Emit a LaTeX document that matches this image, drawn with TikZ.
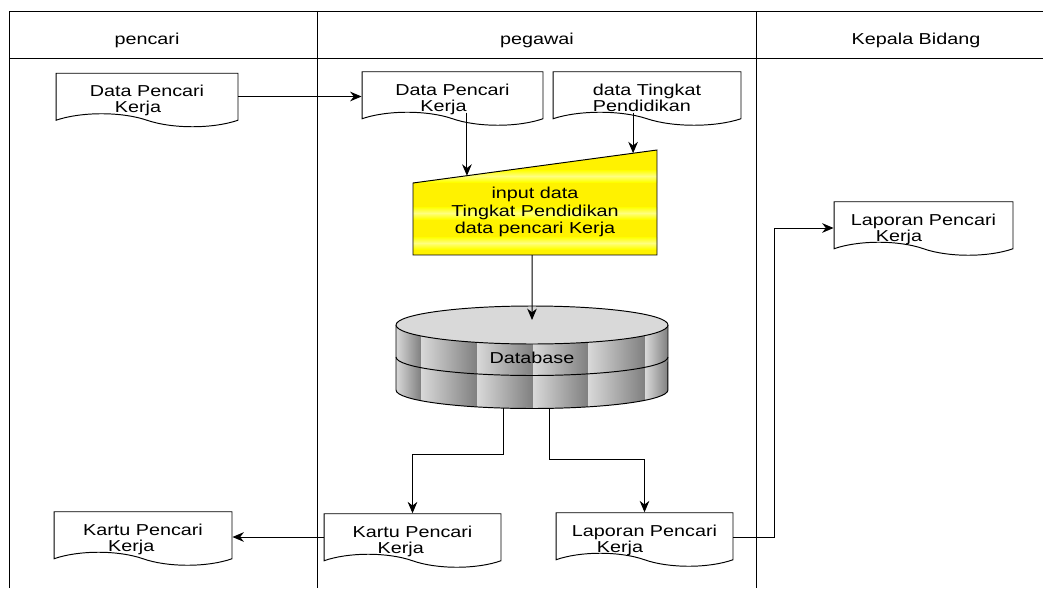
\documentclass[tikz,border=0pt]{standalone}
\usepackage{fontspec}
\setmainfont{Liberation Sans}[FakeStretch=1.25]
\usetikzlibrary{calc,shapes.symbols,arrows.meta}

\newcommand{\isidok}[2]{\raisebox{-11pt}[0pt][0pt]{\renewcommand{\arraystretch}{0.92}\begin{tabular}[b]{@{}l@{}}#1\\#2\end{tabular}}}

\tikzset{
  dokumen/.style={draw, fill=white, shape=tape, tape bend top=none,
    tape bend bottom=out and in, tape bend height=0.26cm,
    minimum width=#1, minimum height=1.07cm, inner sep=2pt},
  panah/.style={-{Stealth[length=6.5pt,width=5.5pt]}}
}

\begin{document}
\begin{tikzpicture}[x=0.02cm, y=-0.02cm, line width=0.55pt, font=\fontsize{9}{10}\selectfont]
    \useasboundingbox (0,0) rectangle (1043,588);
    % kerangka
    \draw (9,588) -- (9,11) -- (1043,11);
    \draw (9,58) -- (1043,58);
    \draw (317,11) -- (317,588);
    \draw (756,11) -- (756,588);
    \node (hpencari) at (147,40) {pencari};
    \node (hpegawai) at (537,40) {pegawai};
    \node (hkepala) at (916,40) {Kepala Bidang};

    % dokumen
    \node[dokumen=3.64cm] (dpk1) at (147,93.5) {\isidok{Data Pencari}{\hspace*{0.5cm}Kerja}};
    \node[dokumen=3.62cm] (dpk2) at (452.5,92) {\isidok{Data Pencari}{\hspace*{0.5cm}Kerja}};
    \node[dokumen=3.76cm] (dtp) at (647,92) {\isidok{data Tingkat}{Pendidikan}};
    \node[dokumen=3.58cm] (lpk3) at (923.5,222) {\isidok{Laporan Pencari}{\hspace*{0.5cm}Kerja}};
    \node[dokumen=3.56cm] (kpk1) at (143,532) {\isidok{Kartu Pencari}{\hspace*{0.5cm}Kerja}};
    \node[dokumen=3.54cm] (kpk2) at (412.5,534) {\isidok{Kartu Pencari}{\hspace*{0.5cm}Kerja}};
    \node[dokumen=3.54cm] (lpk2) at (644.5,533) {\isidok{Laporan Pencari}{\hspace*{0.5cm}Kerja}};

    % input manual
    \coordinate (tl) at (413,183);
    \coordinate (tr) at (657,150);
    \coordinate (br) at (657,255);
    \coordinate (bl) at (413,255);
    \begin{scope}
        \clip (tl) -- (tr) -- (br) -- (bl) -- cycle;
        \fill[yellow] (413,150) rectangle (657,255);
        \foreach \y in {170,207,237}
            \shade[top color=yellow, bottom color=yellow, middle color=yellow!50] (413,\y) rectangle (657,\y+12);
    \end{scope}
    \draw (tl) -- (tr) -- (br) -- (bl) -- cycle;
    \node[align=center] (input) at (535,212) {input data\\Tingkat Pendidikan\\data pencari Kerja};

    % database
    \begin{scope}
        \clip (396,325) -- (396,390) arc[start angle=180, end angle=360, x radius=2.72cm, y radius=0.37cm] -- (668,325) -- cycle;
        \foreach \a/\b in {396/421,421/477,477/533,533/588,588/645,645/668}
            \shade[left color=gray!30, right color=gray] (\a,318) rectangle (\b,415);
    \end{scope}
    \draw (396,325) -- (396,390) arc[start angle=180, end angle=360, x radius=2.72cm, y radius=0.37cm] -- (668,325);
    \draw (396,357) arc[start angle=180, end angle=360, x radius=2.72cm, y radius=0.37cm];
    \draw[fill=gray!30] (532,325) ellipse[x radius=2.72cm, y radius=0.38cm];
    \node (db) at (532,358) {Database};

    % alur
    \coordinate (in1) at ($(tl)!0.221!(tr)$);
    \coordinate (in2) at ($(tl)!0.902!(tr)$);
    \coordinate (out) at ($(bl)!0.488!(br)$);
    \coordinate (dbin) at (532,320);
    \coordinate (db1) at (503,408);
    \coordinate (db2) at (549,408);
    \coordinate (j1) at (503,454);
    \coordinate (j2) at (549,459);
    \coordinate (belok) at (774,0);
    \draw[panah] ([yshift=-0.06cm]dpk1.east) -- ([yshift=-0.06cm]dpk1.east -| dpk2.west);
    \draw[panah] (dpk2.south -| in1) -- (in1);
    \draw[panah] (dtp.south -| in2) -- (in2);
    \draw[panah] (out) -- (dbin);
    \draw[panah] (db1) -- (j1) -| (kpk2.north);
    \draw[panah] (db2) -- (j2) -| (lpk2.north);
    \draw[panah] ([yshift=-0.06cm]kpk2.west) -- ([yshift=-0.06cm]kpk2.west -| kpk1.east);
    \draw[panah] ([yshift=-0.08cm]lpk2.east) -- ([yshift=-0.08cm]lpk2.east -| belok) |- ([yshift=-0.12cm]lpk3.west);
\end{tikzpicture}
\end{document}
